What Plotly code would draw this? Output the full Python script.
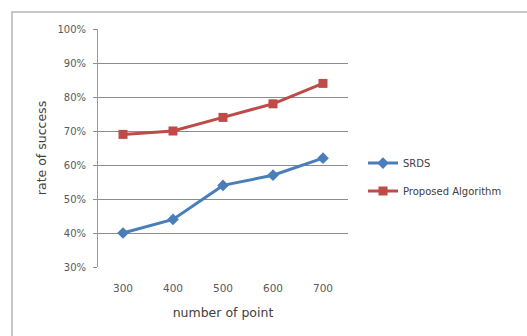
import plotly.graph_objects as go

categories = ["300", "400", "500", "600", "700"]
srds = [0.40, 0.44, 0.54, 0.57, 0.62]
proposed = [0.69, 0.70, 0.74, 0.78, 0.84]
y_ticks = [0.3, 0.4, 0.5, 0.6, 0.7, 0.8, 0.9, 1.0]
y_labels = ["30%", "40%", "50%", "60%", "70%", "80%", "90%", "100%"]

fig = go.Figure()
fig.add_trace(go.Scatter(x=categories, y=srds, name="SRDS", mode="lines+markers",
                         legendgroup="a",
                         line=dict(color="#4a7ebb", width=3),
                         marker=dict(symbol="diamond", size=9, color="#4a7ebb")))
fig.add_trace(go.Scatter(x=categories, y=proposed, name="Proposed Algorithm", mode="lines+markers",
                         legendgroup="b",
                         line=dict(color="#be4b48", width=3),
                         marker=dict(symbol="square", size=9, color="#be4b48")))

font = "DejaVu Sans, sans-serif"
fig.update_layout(
    width=527, height=336,
    margin=dict(l=98, r=179, t=29, b=69),
    paper_bgcolor="white", plot_bgcolor="white",
    font=dict(family=font, color="#595959", size=10),
    xaxis=dict(type="category", range=[-0.5, 4.5], showgrid=False, showline=False,
               automargin=False,
               ticks="", tickfont=dict(size=10.5, color="#595959"), ticklabelstandoff=13,
               title=dict(text="number of point", font=dict(size=12.5, color="#404040"), standoff=15)),
    yaxis=dict(range=[0.3, 1.0], tickvals=y_ticks, ticktext=y_labels, automargin=False,
               showgrid=True, gridcolor="#8c8c8c", gridwidth=1,
               showline=True, linecolor="#9a9a9a", ticks="outside", ticklen=4, tickcolor="#8c8c8c",
               tickfont=dict(size=10, color="#595959"), ticklabelstandoff=5, zeroline=False,
               title=dict(text="rate of success", font=dict(size=12.5, color="#404040"), standoff=8)),
    legend=dict(x=1.06, y=0.378, xanchor="left", yanchor="middle", itemwidth=30,
                font=dict(size=10, color="#404040"), tracegroupgap=9,
                bgcolor="rgba(0,0,0,0)"),
    shapes=[dict(type="rect", xref="paper", yref="paper", x0=-0.344, x1=1.75, y0=-0.35, y1=1.0714,
                 line=dict(color="#b5b5b5", width=1.5), layer="above")],
)
fig.write_html("out.html", config={"displayModeBar": False},
               post_script="document.body.style.margin='0';document.body.style.padding='0';")
